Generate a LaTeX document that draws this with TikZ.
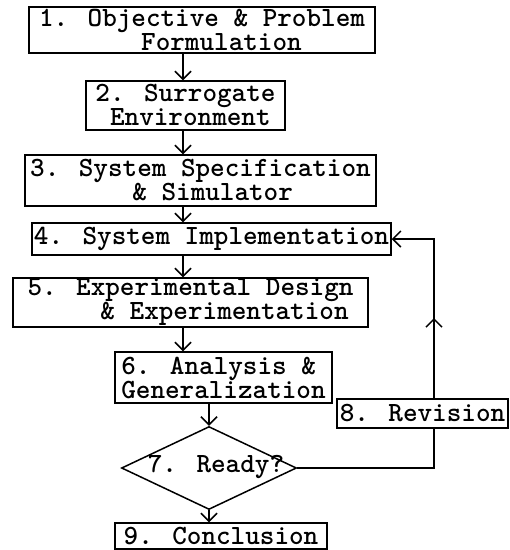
\documentclass[tikz,border=0pt]{standalone}
\usetikzlibrary{arrows.meta,shapes.geometric}
\newcommand\tfont{\ttfamily\bfseries\fontsize{27.8}{24}\selectfont}
\begin{document}
\begin{tikzpicture}[x=1pt,y=-1pt,
  box/.style={draw, line width=1.5pt, rectangle, inner sep=0pt, align=left, font=\tfont},
  arr/.style={line width=1.5pt, -{Straight Barb[length=8pt,width=16pt,line width=1.5pt]}},
  ln/.style={line width=1.5pt}]
\fill[white] (0,0) rectangle (510,550);
\useasboundingbox (0,0) rectangle (510,550);
% boxes
\node[box, minimum width=346pt, minimum height=46pt] (b1) at (202,30)
  {1. Objective \& Problem\\\phantom{0000000}Formulation};
\node[box, minimum width=199pt, minimum height=49pt] (b2) at (185.5,105.5)
  {2. Surrogate\\\phantom{0}Environment};
\node[box, minimum width=351pt, minimum height=51pt] (b3) at (200.5,180.5)
  {3. System Specification\\\phantom{0000000}\& Simulator};
\node[box, minimum width=359pt, minimum height=32pt] (b4) at (211.5,239)
  {4. System Implementation};
\node[box, minimum width=355pt, minimum height=49pt] (b5) at (190.5,302.5)
  {5. Experimental Design\\\phantom{00000}\& Experimentation};
\node[box, minimum width=217pt, minimum height=51pt] (b6) at (223.5,377.5)
  {6. Analysis \&\\Generalization};
\node[draw, diamond, line width=1.5pt, minimum width=175pt, minimum height=83pt, inner sep=0pt] (d7) at (209,468) {};
\node[font=\tfont, inner sep=0pt] (t7) at (216,467) {7. Ready?};
\node[box, minimum width=171pt, minimum height=29pt] (b8) at (422.5,413.5) {8. Revision};
\node[box, minimum width=212pt, minimum height=26pt] (b9) at (221,536) {9. Conclusion};
% helper coordinates
\coordinate (colx) at (183,0);
\coordinate (revx) at (434,0);
\coordinate (midup) at (434,318);
% connectors
\draw[arr] (b1.south -| colx) -- (b2.north -| colx);
\draw[arr] (b2.south -| colx) -- (b3.north -| colx);
\draw[arr] (b3.south -| colx) -- (b4.north -| colx);
\draw[arr] (b4.south -| colx) -- (b5.north -| colx);
\draw[arr] (b5.south -| colx) -- (b6.north -| colx);
\draw[arr] (b6.south -| d7.north) -- (d7.north);
\draw[arr] (d7.south) -- (b9.north -| d7.south);
\draw[ln] (d7.east) -| (b8.south -| revx);
\draw[arr] (b8.north -| revx) -- (midup);
\draw[arr] (b8.north -| revx) |- (b4.east);
\end{tikzpicture}
\end{document}
